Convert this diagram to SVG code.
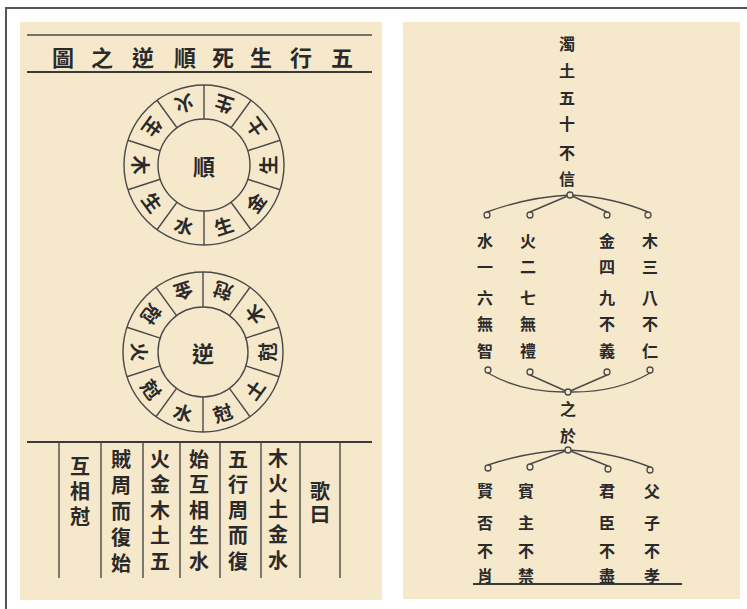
<svg xmlns="http://www.w3.org/2000/svg" width="747" height="609" viewBox="0 0 747 609">
<style>
.bg{fill:#f6e8cb}
.ln{stroke:#4a4a4a;fill:none;stroke-width:1.4}
.tk{stroke:#3a3a3a;fill:none;stroke-width:2}
.t{font-family:"Noto Sans CJK TC","Noto Sans CJK SC",sans-serif;fill:#2a2a2a;font-weight:700;text-anchor:middle;dominant-baseline:central}
.v{font-family:"Noto Sans CJK TC","Noto Sans CJK SC",sans-serif;fill:#2a2a2a;font-weight:700;writing-mode:vertical-rl;text-anchor:start;font-size:20px}
.title{font-size:22px}
.ring{font-size:19px}
.ctr{font-size:22px}
.rt{font-size:16px}
.nd{fill:#f6e8cb;stroke:#4a4a4a;stroke-width:1.3}
</style>
<rect width="747" height="609" fill="#ffffff"/>
<path d="M6,609 V8 H747" stroke="#555" stroke-width="2" fill="none"/>
<rect class="bg" x="20" y="22" width="362" height="578"/>
<rect class="bg" x="403" y="22" width="337" height="577"/>

<g id="title">
<line class="ln" x1="27" y1="35" x2="372" y2="35"/>
<line class="tk" x1="27" y1="72" x2="372" y2="72"/>
<text class="t title" y="56"><tspan x="63">圖</tspan><tspan x="102">之</tspan><tspan x="143">逆</tspan><tspan x="185">順</tspan><tspan x="223">死</tspan><tspan x="261">生</tspan><tspan x="301">行</tspan><tspan x="342">五</tspan></text>
</g>

<g id="shun-circle" transform="translate(204,165)">
<circle class="ln" r="80"/>
<circle class="ln" r="46"/>
<g class="ln">
<line y1="-46" y2="-80" transform="rotate(0)"/><line y1="-46" y2="-80" transform="rotate(36)"/><line y1="-46" y2="-80" transform="rotate(72)"/><line y1="-46" y2="-80" transform="rotate(108)"/><line y1="-46" y2="-80" transform="rotate(144)"/><line y1="-46" y2="-80" transform="rotate(180)"/><line y1="-46" y2="-80" transform="rotate(216)"/><line y1="-46" y2="-80" transform="rotate(252)"/><line y1="-46" y2="-80" transform="rotate(288)"/><line y1="-46" y2="-80" transform="rotate(324)"/>
</g>
<text class="t ctr" x="0" y="0">順</text>
<text class="t ring" transform="rotate(198) translate(0,63)">生</text>
<text class="t ring" transform="rotate(234) translate(0,63)">土</text>
<text class="t ring" transform="rotate(270) translate(0,63)">生</text>
<text class="t ring" transform="rotate(306) translate(0,63)">金</text>
<text class="t ring" transform="rotate(342) translate(0,63)">生</text>
<text class="t ring" transform="rotate(18) translate(0,63)">水</text>
<text class="t ring" transform="rotate(54) translate(0,63)">生</text>
<text class="t ring" transform="rotate(90) translate(0,63)">木</text>
<text class="t ring" transform="rotate(126) translate(0,63)">生</text>
<text class="t ring" transform="rotate(162) translate(0,63)">火</text>
</g>

<g id="ni-circle" transform="translate(203,352)">
<circle class="ln" r="80"/>
<circle class="ln" r="45"/>
<g class="ln">
<line y1="-45" y2="-80" transform="rotate(0)"/><line y1="-45" y2="-80" transform="rotate(36)"/><line y1="-45" y2="-80" transform="rotate(72)"/><line y1="-45" y2="-80" transform="rotate(108)"/><line y1="-45" y2="-80" transform="rotate(144)"/><line y1="-45" y2="-80" transform="rotate(180)"/><line y1="-45" y2="-80" transform="rotate(216)"/><line y1="-45" y2="-80" transform="rotate(252)"/><line y1="-45" y2="-80" transform="rotate(288)"/><line y1="-45" y2="-80" transform="rotate(324)"/>
</g>
<text class="t ctr" x="0" y="0">逆</text>
<text class="t ring" transform="rotate(198) translate(0,63)">尅</text>
<text class="t ring" transform="rotate(234) translate(0,63)">木</text>
<text class="t ring" transform="rotate(270) translate(0,63)">尅</text>
<text class="t ring" transform="rotate(306) translate(0,63)">土</text>
<text class="t ring" transform="rotate(342) translate(0,63)">尅</text>
<text class="t ring" transform="rotate(18) translate(0,63)">水</text>
<text class="t ring" transform="rotate(54) translate(0,63)">尅</text>
<text class="t ring" transform="rotate(90) translate(0,63)">火</text>
<text class="t ring" transform="rotate(126) translate(0,63)">尅</text>
<text class="t ring" transform="rotate(162) translate(0,63)">金</text>
</g>

<g id="poem">
<line class="tk" x1="27" y1="442" x2="372" y2="442"/>
<g class="ln">
<line x1="59" y1="442" x2="59" y2="578"/><line x1="101" y1="442" x2="101" y2="578"/><line x1="143" y1="442" x2="143" y2="578"/><line x1="180" y1="442" x2="180" y2="578"/><line x1="220" y1="442" x2="220" y2="578"/><line x1="261" y1="442" x2="261" y2="578"/><line x1="300" y1="442" x2="300" y2="578"/><line x1="340" y1="442" x2="340" y2="578"/>
</g>
<text class="v" x="320" y="481" letter-spacing="3">歌曰</text>
<text class="v" x="278" y="448" letter-spacing="5.5">木火土金水</text>
<text class="v" x="238" y="449" letter-spacing="5.5">五行周而復</text>
<text class="v" x="199" y="449" letter-spacing="5.5">始互相生水</text>
<text class="v" x="160" y="449" letter-spacing="5.5">火金木土五</text>
<text class="v" x="121" y="449" letter-spacing="6">賊周而復始</text>
<text class="v" x="80" y="456" letter-spacing="5">互相尅</text>
</g>

<g id="connectors">
<path class="ln" d="M570,195 Q528,197 487,212"/>
<path class="ln" d="M570,195 Q612,197 648,212"/>
<path class="ln" d="M570,195 L530,212"/>
<path class="ln" d="M570,195 L607,212"/>
<path class="ln" d="M488,373 Q522,393 568,392"/>
<path class="ln" d="M650,373 Q616,393 568,392"/>
<path class="ln" d="M530,375 L568,392"/>
<path class="ln" d="M607,375 L568,392"/>
<path class="ln" d="M568,450 Q526,452 488,465"/>
<path class="ln" d="M568,450 Q612,452 650,467"/>
<path class="ln" d="M568,450 L530,464"/>
<path class="ln" d="M568,450 L608,466"/>
<line class="tk" x1="473" y1="584" x2="682" y2="584" stroke-width="1.6"/>
</g>

<g id="node-top"><text class="t rt"><tspan x="567" y="43">濁</tspan><tspan x="567" y="70">土</tspan><tspan x="567" y="97">五</tspan><tspan x="567" y="123">十</tspan><tspan x="567" y="152">不</tspan><tspan x="567" y="178">信</tspan></text><circle class="nd" cx="570" cy="195" r="3"/></g>
<g id="node-water"><circle class="nd" cx="487" cy="215" r="3"/><text class="t rt"><tspan x="485" y="240">水</tspan><tspan x="485" y="266">一</tspan><tspan x="485" y="297">六</tspan><tspan x="485" y="323">無</tspan><tspan x="485" y="350">智</tspan></text><circle class="nd" cx="488" cy="370" r="3"/></g>
<g id="node-fire"><circle class="nd" cx="530" cy="215" r="3"/><text class="t rt"><tspan x="528" y="240">火</tspan><tspan x="528" y="266">二</tspan><tspan x="528" y="297">七</tspan><tspan x="528" y="323">無</tspan><tspan x="528" y="350">禮</tspan></text><circle class="nd" cx="530" cy="372" r="3"/></g>
<g id="node-metal"><circle class="nd" cx="607" cy="215" r="3"/><text class="t rt"><tspan x="607" y="240">金</tspan><tspan x="607" y="266">四</tspan><tspan x="607" y="297">九</tspan><tspan x="607" y="323">不</tspan><tspan x="607" y="350">義</tspan></text><circle class="nd" cx="607" cy="372" r="3"/></g>
<g id="node-wood"><circle class="nd" cx="648" cy="215" r="3"/><text class="t rt"><tspan x="650" y="240">木</tspan><tspan x="650" y="266">三</tspan><tspan x="650" y="297">八</tspan><tspan x="650" y="323">不</tspan><tspan x="650" y="350">仁</tspan></text><circle class="nd" cx="650" cy="370" r="3"/></g>
<g id="node-mid"><circle class="nd" cx="568" cy="392" r="3"/><text class="t rt"><tspan x="568" y="408">之</tspan><tspan x="568" y="435">於</tspan></text><circle class="nd" cx="568" cy="450" r="3"/></g>
<g id="node-xian"><circle class="nd" cx="488" cy="468" r="3"/><text class="t rt"><tspan x="485" y="490">賢</tspan><tspan x="485" y="522">否</tspan><tspan x="485" y="550">不</tspan><tspan x="485" y="575">肖</tspan></text></g>
<g id="node-bin"><circle class="nd" cx="530" cy="467" r="3"/><text class="t rt"><tspan x="526" y="490">賓</tspan><tspan x="526" y="522">主</tspan><tspan x="526" y="550">不</tspan><tspan x="526" y="575">禁</tspan></text></g>
<g id="node-jun"><circle class="nd" cx="608" cy="469" r="3"/><text class="t rt"><tspan x="607" y="490">君</tspan><tspan x="607" y="522">臣</tspan><tspan x="607" y="550">不</tspan><tspan x="607" y="575">盡</tspan></text></g>
<g id="node-fu"><circle class="nd" cx="650" cy="470" r="3"/><text class="t rt"><tspan x="652" y="490">父</tspan><tspan x="652" y="522">子</tspan><tspan x="652" y="550">不</tspan><tspan x="652" y="575">孝</tspan></text></g>
</svg>
